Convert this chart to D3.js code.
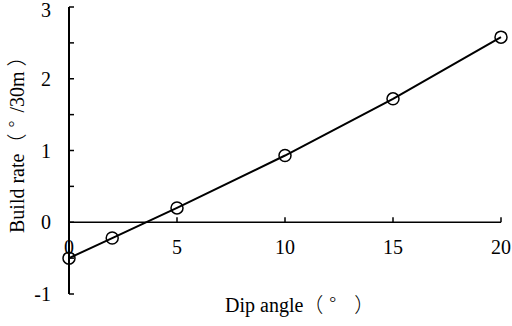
<!DOCTYPE html>
<html>
<head>
<meta charset="utf-8">
<script src="https://cdn.jsdelivr.net/npm/d3@7"></script>
<style>
  body { margin: 0; background: #fff; }
  text { font-family: "Liberation Serif", "Times New Roman", serif; fill: #000; }
  .cjk { font-family: "Noto Sans CJK SC", sans-serif; font-weight: 300; }
</style>
</head>
<body>
<svg id="chart"></svg>
<script>
var dipAngle = [0, 2, 5, 10, 15, 20];
var buildRate = [-0.5, -0.22, 0.2, 0.93, 1.72, 2.58];
var xTicks = [0, 5, 10, 15, 20];
var yTicks = [-1, 0, 1, 2, 3];
var yMinorTicks = [-0.5, 0.5, 1.5, 2.5];

function init() {
    var w = 512;
    var h = 326;

    var svg = d3.select("svg")
                .attr("width", w)
                .attr("height", h);

    var x = d3.scaleLinear().domain([0, 20]).range([69, 501]);
    var y = d3.scaleLinear().domain([-1, 3]).range([294, 7]);

    // y axis
    svg.append("line")
        .attr("x1", x(0)).attr("x2", x(0))
        .attr("y1", y(-1)).attr("y2", y(3))
        .attr("stroke", "#000").attr("stroke-width", 2);

    svg.selectAll("line.ytick")
        .data(yTicks.concat(yMinorTicks))
        .enter()
        .append("line")
        .attr("class", "ytick")
        .attr("x1", x(0)).attr("x2", x(0) + 5)
        .attr("y1", function(d) { return y(d); })
        .attr("y2", function(d) { return y(d); })
        .attr("stroke", "#000").attr("stroke-width", 1.5);

    svg.selectAll("text.ylab")
        .data(yTicks)
        .enter()
        .append("text")
        .attr("class", "ylab")
        .attr("x", 51)
        .attr("y", function(d) { return Math.max(y(d), 10); })
        .attr("dy", "0.35em")
        .attr("text-anchor", "end")
        .style("font-size", "20px")
        .text(function(d) { return d; });

    // x axis along zero
    svg.append("line")
        .attr("x1", x(0)).attr("x2", x(20))
        .attr("y1", y(0)).attr("y2", y(0))
        .attr("stroke", "#000").attr("stroke-width", 1.5);

    svg.selectAll("line.xtick")
        .data(xTicks)
        .enter()
        .append("line")
        .attr("class", "xtick")
        .attr("x1", function(d) { return x(d); })
        .attr("x2", function(d) { return x(d); })
        .attr("y1", y(0)).attr("y2", y(0) - 5)
        .attr("stroke", "#000").attr("stroke-width", 1.5);

    svg.selectAll("text.xlab")
        .data(xTicks)
        .enter()
        .append("text")
        .attr("class", "xlab")
        .attr("x", function(d) { return x(d); })
        .attr("y", y(0) + 25)
        .attr("dy", "0.35em")
        .attr("text-anchor", "middle")
        .style("font-size", "20px")
        .text(function(d) { return d; });

    // axis titles
    var xt = svg.append("text")
        .attr("x", 225).attr("y", 312)
        .style("font-size", "20px");
    xt.append("tspan").text("Dip angle");
    xt.append("tspan").attr("class", "cjk").text("（");
    xt.append("tspan").attr("class", "cjk").attr("dx", 6).text("°");
    xt.append("tspan").attr("class", "cjk").attr("dx", 18).text("）");

    var yt = svg.append("text")
        .attr("transform", "translate(24,233) rotate(-90)")
        .style("font-size", "20px");
    yt.append("tspan").text("Build rate");
    yt.append("tspan").attr("class", "cjk").text("（");
    yt.append("tspan").attr("class", "cjk").attr("dx", 6).text("°");
    yt.append("tspan").attr("dx", 8).text("/30m");
    yt.append("tspan").attr("class", "cjk").attr("dx", 5).text("）");

    // data
    var line = d3.line()
                 .x(function(d, i) { return x(dipAngle[i]); })
                 .y(function(d) { return y(d); });

    svg.append("path")
        .datum(buildRate)
        .attr("d", line)
        .attr("fill", "none")
        .attr("stroke", "#000")
        .attr("stroke-width", 2);

    svg.selectAll("circle.pt")
        .data(buildRate)
        .enter()
        .append("circle")
        .attr("class", "pt")
        .attr("cx", function(d, i) { return x(dipAngle[i]); })
        .attr("cy", function(d) { return y(d); })
        .attr("r", 6)
        .attr("fill", "none")
        .attr("stroke", "#000")
        .attr("stroke-width", 1.5);
}
window.onload = init;
</script>
</body>
</html>
